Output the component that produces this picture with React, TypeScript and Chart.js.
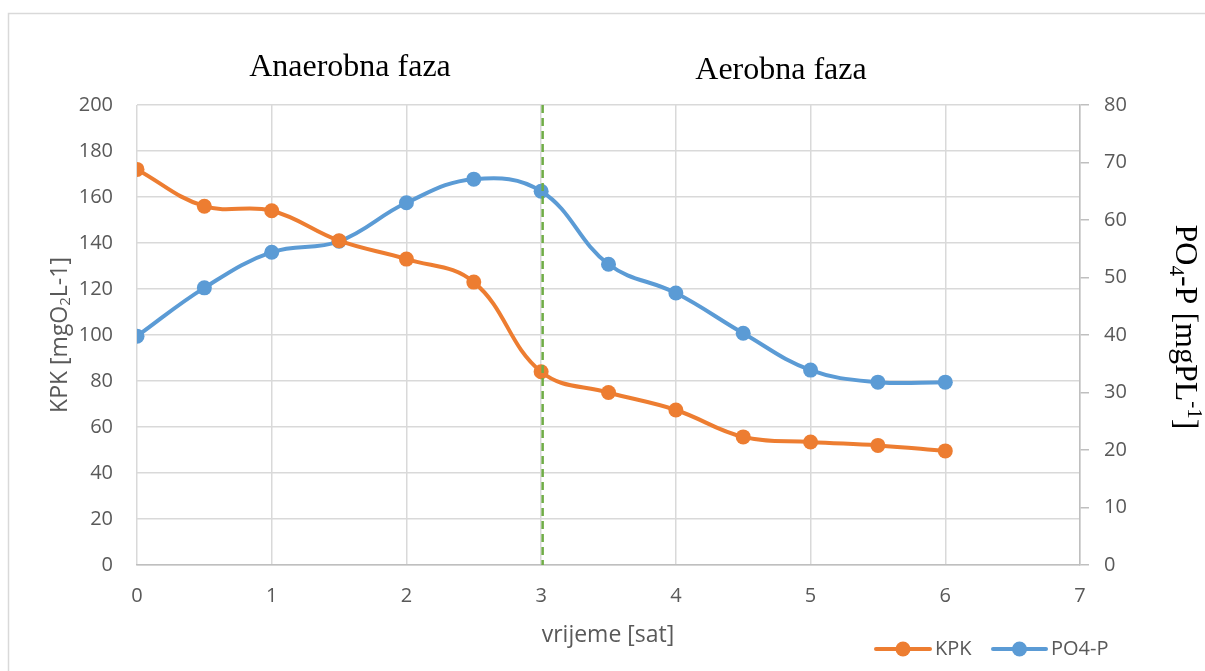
import React, { useEffect, useRef } from "react";
import { Chart, registerables } from "chart.js";

Chart.register(...registerables);

// ---- data ----
const timeHours = [0, 0.5, 1, 1.5, 2, 2.5, 3, 3.5, 4, 4.5, 5, 5.5, 6];
const kpkValues = [172, 156, 154, 141, 133, 123, 84, 75, 67.4, 55.7, 53.5, 52, 49.6];
const po4pValues = [39.8, 48.2, 54.4, 56.3, 63, 67.1, 65, 52.3, 47.3, 40.3, 33.9, 31.8, 31.8];
const seriesNames = ["KPK", "PO4-P"];
const phaseLabels = ["Anaerobna faza", "Aerobna faza"];
const phaseDividerHour = 3;
const xAxisTitle = "vrijeme [sat]";
const xMax = 7;
const leftMax = 200;
const leftStep = 20;
const rightMax = 80;
const rightStep = 10;

const ORANGE = "#ED7D31";
const BLUE = "#5B9BD5";
const GREEN = "#70AD47";
const GRID = "#d9d9d9";
const AXIS = "#bfbfbf";
const TICK_TEXT = "#595959";
const SANS = "'Open Sans', 'Liberation Sans', sans-serif";
const SERIF = "'Liberation Serif', 'DejaVu Serif', serif";

type Seg = { t: string; shift?: number; small?: boolean };

function drawSegments(ctx: CanvasRenderingContext2D, segs: Seg[], size: number, family: string, cx: number, cy: number) {
  const fontFor = (s: Seg) => `${s.small ? Math.round(size * 0.65) : size}px ${family}`;
  let total = 0;
  for (const s of segs) {
    ctx.font = fontFor(s);
    total += ctx.measureText(s.t).width;
  }
  let x = cx - total / 2;
  for (const s of segs) {
    ctx.font = fontFor(s);
    ctx.fillText(s.t, x, cy + (s.shift || 0) * size);
    x += ctx.measureText(s.t).width;
  }
}

const overlayPlugin = {
  id: "overlay",
  beforeDraw(chart: any) {
    const ctx = chart.ctx as CanvasRenderingContext2D;
    ctx.save();
    ctx.strokeStyle = "#d9d9d9";
    ctx.lineWidth = 1.5;
    ctx.strokeRect(8.5, 13.5, 1300, 800);
    ctx.restore();
  },
  afterDatasetsDraw(chart: any) {
    const ctx = chart.ctx as CanvasRenderingContext2D;
    const xs = chart.scales.x;
    const area = chart.chartArea;
    const px = xs.getPixelForValue(phaseDividerHour) + 1.5;
    ctx.save();
    ctx.strokeStyle = GREEN;
    ctx.lineWidth = 2.5;
    ctx.setLineDash([8, 5]);
    ctx.beginPath();
    ctx.moveTo(px, area.top);
    ctx.lineTo(px, area.bottom);
    ctx.stroke();
    ctx.restore();
  },
  afterDraw(chart: any) {
    const ctx = chart.ctx as CanvasRenderingContext2D;
    ctx.save();
    // phase labels
    ctx.fillStyle = "#000";
    ctx.font = `32px ${SERIF}`;
    ctx.textAlign = "center";
    ctx.textBaseline = "alphabetic";
    ctx.fillText(phaseLabels[0], 350, 76);
    ctx.fillText(phaseLabels[1], 781, 79);

    // x axis title
    ctx.fillStyle = TICK_TEXT;
    ctx.font = `23px ${SANS}`;
    ctx.textBaseline = "middle";
    ctx.fillText(xAxisTitle, 608, 635);

    // left axis title
    ctx.textAlign = "left";
    ctx.save();
    ctx.translate(60, 335);
    ctx.rotate(-Math.PI / 2);
    drawSegments(ctx, [
      { t: "KPK [mgO" },
      { t: "2", shift: 0.25, small: true },
      { t: "L-1]" },
    ], 23, SANS, 0, 0);
    ctx.restore();

    // right axis title
    ctx.fillStyle = "#000";
    ctx.save();
    ctx.translate(1184, 327);
    ctx.rotate(Math.PI / 2);
    drawSegments(ctx, [
      { t: "PO" },
      { t: "4", shift: 0.25, small: true },
      { t: "-P [mgPL" },
      { t: "-1", shift: -0.3, small: true },
      { t: "]" },
    ], 32, SERIF, 0, 0);
    ctx.restore();

    // legend
    const items = [
      { name: seriesNames[0], color: ORANGE, x0: 876, x1: 930 },
      { name: seriesNames[1], color: BLUE, x0: 993, x1: 1046 },
    ];
    const ly = 649;
    for (const it of items) {
      ctx.strokeStyle = it.color;
      ctx.lineWidth = 4;
      ctx.lineCap = "round";
      ctx.beginPath();
      ctx.moveTo(it.x0, ly);
      ctx.lineTo(it.x1, ly);
      ctx.stroke();
      ctx.fillStyle = it.color;
      ctx.beginPath();
      ctx.arc((it.x0 + it.x1) / 2, ly, 7.5, 0, Math.PI * 2);
      ctx.fill();
      ctx.fillStyle = TICK_TEXT;
      ctx.font = `20px ${SANS}`;
      ctx.textAlign = "left";
      ctx.textBaseline = "middle";
      ctx.fillText(it.name, it.x1 + 5, ly);
    }
    ctx.restore();
  },
};

export default function App() {
  const ref = useRef<HTMLCanvasElement>(null);

  useEffect(() => {
    if (!ref.current) return;
    const chart = new Chart(ref.current, {
      type: "line",
      data: {
        datasets: [
          {
            label: seriesNames[0],
            data: timeHours.map((t, i) => ({ x: t, y: kpkValues[i] })),
            borderColor: ORANGE,
            backgroundColor: ORANGE,
            borderWidth: 4,
            pointRadius: 7.5,
            pointBorderWidth: 0,
            pointHoverRadius: 7.5,
            tension: 0.4,
            yAxisID: "y",
          },
          {
            label: seriesNames[1],
            data: timeHours.map((t, i) => ({ x: t, y: po4pValues[i] })),
            borderColor: BLUE,
            backgroundColor: BLUE,
            borderWidth: 4,
            pointRadius: 7.5,
            pointBorderWidth: 0,
            pointHoverRadius: 7.5,
            tension: 0.4,
            yAxisID: "y1",
          },
        ],
      },
      options: {
        animation: false,
        responsive: false,
        events: [],
        layout: { padding: { top: 105, left: 0, right: 0, bottom: 0 }, autoPadding: false },
        plugins: { legend: { display: false }, tooltip: { enabled: false }, title: { display: false } },
        scales: {
          x: {
            type: "linear",
            min: 0,
            max: xMax,
            ticks: { stepSize: 1, color: TICK_TEXT, font: { family: SANS, size: 20 }, padding: 19 },
            grid: { color: GRID, lineWidth: 1.5, drawTicks: false },
            border: { color: AXIS, width: 1.5 },
            afterFit: (s: any) => { s.height = 106; },
          },
          y: {
            position: "left",
            min: 0,
            max: leftMax,
            ticks: { stepSize: leftStep, color: TICK_TEXT, font: { family: SANS, size: 20 }, padding: 24 },
            grid: { color: GRID, lineWidth: 1.5, drawTicks: false },
            border: { display: false },
            afterFit: (s: any) => { s.width = 137; },
          },
          y1: {
            position: "right",
            min: 0,
            max: rightMax,
            ticks: { stepSize: rightStep, color: TICK_TEXT, font: { family: SANS, size: 20 }, padding: 15 },
            grid: { drawOnChartArea: false, drawTicks: true, tickLength: 9, tickColor: AXIS, lineWidth: 1.5 },
            border: { color: AXIS, width: 1.5 },
            afterFit: (s: any) => { s.width = 125; },
          },
        },
      } as any,
      plugins: [overlayPlugin],
    });
    return () => chart.destroy();
  }, []);

  return (
    <div style={{ position: "absolute", left: 0, top: 0, width: 1205, height: 671, background: "#fff" }}>
      <canvas ref={ref} width={1205} height={671} style={{ width: 1205, height: 671, display: "block" }} />
    </div>
  );
}
